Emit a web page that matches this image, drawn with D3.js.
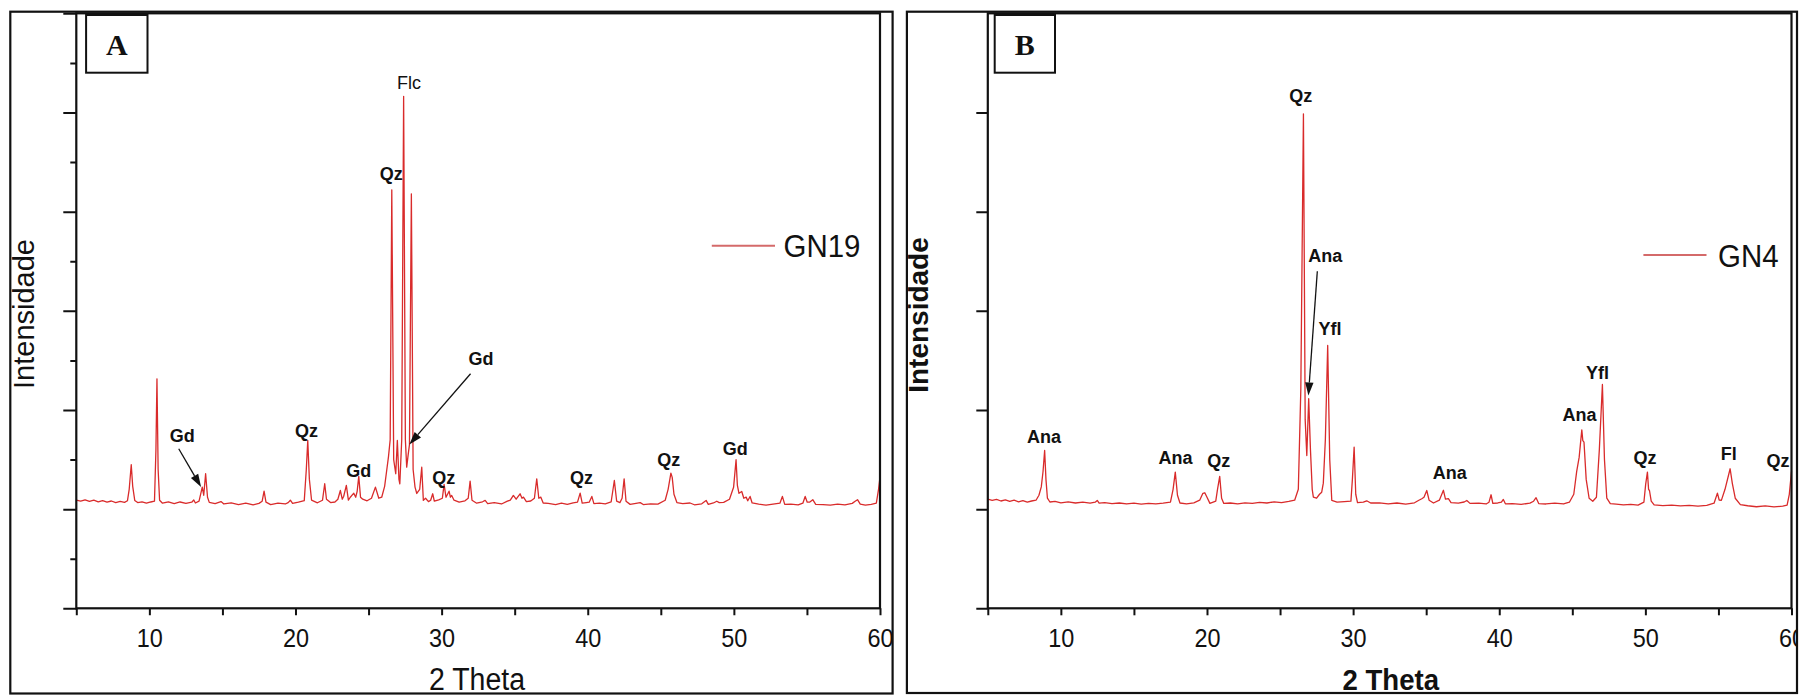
<!DOCTYPE html>
<html>
<head>
<meta charset="utf-8">
<script src="https://cdn.jsdelivr.net/npm/d3@7"></script>
<style>
    html, body { margin: 0; padding: 0; background: #fff; }
    svg { display: block; }
</style>
</head>
<body>
<script>
// Difratogramas DRX - GN19 (A) e GN4 (B)

const xDomain = [5, 60];
const yDomain = [-1000, 5000];
const xTicks = [5, 10, 15, 20, 25, 30, 35, 40, 45, 50, 55, 60];
const xTickLabels = [10, 20, 30, 40, 50, 60];
const yMajorA = [-1000, 0, 1000, 2000, 3000, 4000, 5000];
const yMinorA = [-500, 500, 1500, 2500, 3500, 4500];
const yTicksB = [-1000, 0, 1000, 2000, 3000, 4000];

// [2theta, intensidade]
const gn19 = [
    [5.0, 92], [5.3, 80], [5.6, 94], [5.9, 78], [6.2, 90], [6.5, 74], [6.8, 86], [7.1, 70], [7.4, 82], [7.7, 66], [8.0, 78], [8.3, 68], [8.5, 84],
    [8.62, 200], [8.76, 448], [8.86, 230], [9.0, 88], [9.2, 66], [9.5, 74], [9.8, 60], [10.1, 72], [10.35, 80],
    [10.45, 600], [10.52, 1314], [10.6, 400], [10.7, 90], [10.9, 60], [11.3, 74], [11.7, 56], [12.1, 72], [12.5, 58], [12.9, 70], [13.04, 92], [13.15, 62],
    [13.4, 80], [13.62, 222], [13.72, 140], [13.85, 357], [13.98, 120], [14.1, 68], [14.5, 56], [14.9, 76], [15.1, 52], [15.6, 64], [16.1, 46], [16.6, 60], [17.1, 44], [17.5, 58],
    [17.72, 80], [17.85, 181], [17.98, 70], [18.3, 46], [18.8, 60], [19.3, 52], [19.5, 66], [19.65, 90], [19.8, 58], [20.2, 70], [20.6, 86],
    [20.74, 400], [20.84, 693], [20.95, 300], [21.1, 90], [21.5, 64], [21.85, 90], [22.0, 256], [22.12, 100], [22.4, 66], [22.7, 72],
    [22.9, 100], [23.07, 188], [23.2, 100], [23.3, 130], [23.48, 239], [23.62, 90], [23.75, 120], [23.99, 161], [24.12, 120], [24.22, 180], [24.33, 330], [24.45, 120], [24.6, 100], [24.9, 84], [25.2, 110],
    [25.47, 222], [25.7, 110], [25.9, 120], [26.1, 230], [26.25, 400], [26.36, 524], [26.48, 700], [26.59, 3220], [26.72, 500], [26.86, 357], [26.97, 693], [27.08, 300], [27.14, 256],
    [27.27, 700], [27.4, 4163], [27.52, 700], [27.61, 423], [27.72, 560], [27.8, 650], [27.93, 3180], [28.05, 400], [28.18, 222], [28.3, 158], [28.5, 200], [28.64, 423], [28.75, 88],
    [28.9, 110], [29.1, 76], [29.25, 90], [29.39, 155], [29.5, 80], [29.8, 94], [30.05, 110],
    [30.17, 249], [30.3, 120], [30.51, 181], [30.6, 120], [30.69, 138], [30.85, 90], [31.2, 70], [31.6, 84], [31.82, 110], [31.95, 282], [32.08, 90], [32.4, 60], [32.8, 74], [32.98, 88], [33.15, 56],
    [33.6, 66], [34.1, 52], [34.5, 80], [34.7, 90], [34.91, 138], [35.1, 100], [35.37, 155], [35.5, 110], [35.6, 121], [35.8, 76], [36.1, 82], [36.35, 110],
    [36.51, 306], [36.65, 110], [36.79, 121], [36.95, 62], [37.3, 58], [37.8, 46], [38.2, 60], [38.6, 48], [39.0, 64], [39.3, 70], [39.48, 161], [39.62, 60], [39.9, 66], [40.1, 70], [40.28, 128], [40.42, 56],
    [40.8, 60], [41.2, 54], [41.6, 72], [41.82, 289], [41.98, 80], [42.2, 66], [42.35, 110], [42.49, 306], [42.62, 80], [42.9, 48], [43.3, 58], [43.59, 66], [43.8, 46], [44.3, 54], [44.8, 50],
    [45.3, 90], [45.5, 200], [45.69, 363], [45.78, 320], [45.9, 150], [46.1, 66], [46.5, 56], [47.0, 62], [47.3, 44], [47.8, 54], [48.1, 88], [48.25, 48], [48.6, 62], [48.83, 80], [49.0, 66],
    [49.3, 68], [49.7, 100], [49.98, 220], [50.15, 498], [50.24, 239], [50.35, 160], [50.54, 178], [50.68, 110], [50.84, 121], [50.95, 84], [51.11, 128], [51.25, 62], [51.7, 50], [52.2, 40],
    [52.8, 52], [53.15, 60], [53.32, 128], [53.48, 48], [53.9, 50], [54.4, 42], [54.72, 60], [54.88, 128], [55.02, 70], [55.2, 72], [55.4, 95], [55.6, 48], [56.1, 46], [56.6, 40], [57.1, 50],
    [57.6, 42], [58.1, 58], [58.3, 80], [58.46, 95], [58.65, 50], [59.0, 40], [59.4, 48], [59.75, 60], [59.9, 200], [60.0, 323]
];

const gn4 = [
    [5.0, 100], [5.3, 88], [5.6, 98], [5.9, 82], [6.2, 94], [6.5, 78], [6.8, 90], [7.1, 74], [7.4, 86], [7.7, 70], [8.0, 82], [8.3, 90], [8.5, 140],
    [8.66, 224], [8.78, 380], [8.89, 592], [8.98, 300], [9.08, 110], [9.25, 72], [9.6, 78], [10.0, 64], [10.5, 74], [11.0, 62], [11.5, 70], [12.0, 60], [12.35, 70], [12.49, 88], [12.62, 60],
    [13.0, 66], [13.5, 56], [14.0, 62], [14.5, 52], [15.0, 60], [15.5, 50], [16.0, 58], [16.5, 52], [17.0, 60], [17.5, 70],
    [17.68, 200], [17.83, 373], [17.98, 140], [18.15, 62], [18.6, 54], [19.1, 64], [19.5, 90], [19.72, 160], [19.85, 165], [20.0, 120], [20.2, 58], [20.6, 80],
    [20.72, 200], [20.87, 330], [21.0, 110], [21.15, 58], [21.6, 62], [22.1, 54], [22.6, 64], [23.1, 58], [23.6, 68], [24.1, 62], [24.6, 74], [25.1, 66], [25.6, 78], [26.0, 90],
    [26.25, 200], [26.42, 1200], [26.6, 3986], [26.72, 900], [26.83, 541], [26.96, 1113], [27.08, 600], [27.2, 200], [27.28, 121], [27.5, 110], [27.7, 150], [27.85, 171], [27.96, 262],
    [28.1, 700], [28.26, 1650], [28.4, 500], [28.54, 88], [28.9, 70], [29.4, 76], [29.85, 80], [29.95, 300], [30.07, 625], [30.18, 150], [30.3, 66], [30.7, 70], [30.93, 84], [31.2, 62],
    [31.8, 64], [32.4, 52], [33.0, 62], [33.6, 50], [34.2, 64], [34.5, 90], [34.7, 105], [34.85, 120], [35.04, 188], [35.2, 90], [35.5, 62], [35.9, 90], [36.18, 190], [36.32, 100],
    [36.52, 105], [36.7, 66], [37.2, 60], [37.6, 72], [37.78, 87], [38.0, 58], [38.6, 60], [39.1, 52], [39.3, 70], [39.44, 145], [39.56, 58], [39.9, 62], [40.15, 70], [40.28, 98], [40.42, 54],
    [40.9, 56], [41.5, 48], [42.1, 60], [42.35, 80], [42.52, 115], [42.7, 56], [43.2, 52], [43.8, 60], [44.4, 52], [44.8, 70],
    [45.1, 150], [45.3, 380], [45.47, 524], [45.65, 800], [45.72, 690], [45.8, 675], [45.95, 300], [46.15, 110], [46.4, 80], [46.65, 120], [46.85, 600], [47.06, 1257], [47.2, 500], [47.36, 110],
    [47.6, 56], [48.0, 50], [48.5, 42], [49.0, 48], [49.5, 40], [49.9, 70], [50.02, 250], [50.14, 373], [50.22, 200], [50.28, 188], [50.4, 80], [50.6, 42], [51.2, 36], [51.8, 40],
    [52.4, 32], [53.0, 38], [53.6, 30], [54.2, 38], [54.7, 60], [54.93, 161], [55.05, 92], [55.2, 88], [55.45, 200], [55.8, 407], [55.95, 260], [56.15, 110], [56.5, 46],
    [57.0, 34], [57.6, 24], [58.2, 32], [58.8, 22], [59.4, 30], [59.7, 40], [59.85, 150], [60.0, 380]
];

// [texto, 2theta, intensidade]
const picosA = [
    ['Flc', 27.77, 4239], ['Qz', 26.56, 3319], ['Gd', 32.7, 1451], ['Gd', 12.25, 677], ['Qz', 20.76, 728],
    ['Gd', 24.33, 325], ['Qz', 30.15, 254], ['Qz', 39.58, 254], ['Qz', 45.55, 435], ['Gd', 50.09, 546]
];
const picosB = [
    ['Qz', 26.42, 4105], ['Ana', 28.1, 2492], ['Yfl', 28.42, 1753], ['Ana', 8.85, 667], ['Ana', 17.85, 456],
    ['Qz', 20.81, 428], ['Ana', 36.61, 304], ['Ana', 45.5, 884], ['Yfl', 46.73, 1312], ['Qz', 49.98, 451],
    ['Fl', 55.71, 496], ['Qz', 59.08, 425]
];
// [2theta inicio, int inicio, 2theta fim, int fim]
const setasA = [[12.01, 609, 13.54, 222], [31.98, 1365, 27.79, 652]];
const setasB = [[27.55, 2399, 26.94, 1146]];

const FONT = '"Liberation Sans", Arial, sans-serif';
const SERIF = '"Liberation Serif", "Times New Roman", serif';
const traceColor = '#d92b2b';
const legendColor = '#d46a6a';

const svg = d3.select('body').append('svg').attr('width', 1800).attr('height', 696);
svg.append('rect').attr('width', 1800).attr('height', 696).attr('fill', '#fff');
const defs = svg.append('defs');

renderPanel({
    id: 'A', letter: 'A', serie: 'GN19', data: gn19, picos: picosA, setas: setasA,
    regular: ['Flc'], bold: false,
    frame: [10.3, 11.7, 892.6, 693.5], plot: [76.3, 13.3, 880, 608.3],
    box: [86.1, 15, 147.5, 72.7],
    legend: { x1: 711.8, x2: 775, y: 245.7, tx: 783.6 },
    yLabel: { x: 34, y: 314, size: 29 }, xLabel: { x: 477, y: 690, size: 31 },
    yMajor: yMajorA, yMinor: yMinorA, majorLen: 13
});
renderPanel({
    id: 'B', letter: 'B', serie: 'GN4', data: gn4, picos: picosB, setas: setasB,
    regular: [], bold: true,
    frame: [906.9, 11.7, 1797, 693], plot: [987.8, 13.3, 1791.5, 608.3],
    box: [994.7, 15, 1055, 72.7],
    legend: { x1: 1643.4, x2: 1706.5, y: 255, tx: 1718 },
    yLabel: { x: 928, y: 315, size: 28 }, xLabel: { x: 1390.8, y: 690, size: 30 },
    yMajor: yTicksB, yMinor: null, majorLen: 11.5
});

function renderPanel(cfg) {
    const [fx0, fy0, fx1, fy1] = cfg.frame;
    const [left, top, right, bottom] = cfg.plot;
    const clipId = 'clip-' + cfg.id;
    defs.append('clipPath').attr('id', clipId).append('rect')
        .attr('x', fx0).attr('y', fy0).attr('width', fx1 - fx0).attr('height', fy1 - fy0);
    const g = svg.append('g').attr('clip-path', `url(#${clipId})`);

    const x = d3.scaleLinear().domain(xDomain).range([left, right]);
    const y = d3.scaleLinear().domain(yDomain).range([bottom, top]);

    // difratograma
    g.append('path')
        .datum(cfg.data)
        .attr('d', d3.line().x(d => x(d[0])).y(d => y(d[1])))
        .attr('fill', 'none')
        .attr('stroke', traceColor)
        .attr('stroke-width', 1.3)
        .attr('stroke-linejoin', 'round');

    // caixa dos eixos
    g.append('rect')
        .attr('x', left).attr('y', top).attr('width', right - left).attr('height', bottom - top)
        .attr('fill', 'none').attr('stroke', '#111').attr('stroke-width', 2.2);

    // eixo x
    const gx = g.append('g')
        .attr('transform', `translate(0,${bottom})`)
        .call(d3.axisBottom(x).tickValues(xTicks).tickSize(7).tickPadding(14)
            .tickFormat(d => xTickLabels.includes(d) ? d : ''));
    gx.select('.domain').remove();
    gx.selectAll('line').attr('stroke', '#111').attr('stroke-width', 2);
    gx.selectAll('text')
        .attr('font-size', 25.5).attr('font-family', FONT).attr('fill', '#111')
        .attr('transform', 'scale(0.92,1)');

    // eixo y (sem rótulos)
    const gy = g.append('g')
        .attr('transform', `translate(${left},0)`)
        .call(d3.axisLeft(y).tickValues(cfg.yMajor).tickSize(cfg.majorLen).tickFormat(''));
    gy.select('.domain').remove();
    gy.selectAll('line').attr('stroke', '#111').attr('stroke-width', 2);
    if (cfg.yMinor) {
        const gm = g.append('g')
            .attr('transform', `translate(${left},0)`)
            .call(d3.axisLeft(y).tickValues(cfg.yMinor).tickSize(6).tickFormat(''));
        gm.select('.domain').remove();
        gm.selectAll('line').attr('stroke', '#111').attr('stroke-width', 2);
    }

    // rótulos dos picos
    g.selectAll('text.pico')
        .data(cfg.picos)
        .enter()
        .append('text')
        .attr('class', 'pico')
        .attr('x', d => x(d[1]))
        .attr('y', d => y(d[2]))
        .attr('text-anchor', 'middle')
        .attr('font-family', FONT)
        .attr('font-size', 18)
        .attr('font-weight', d => cfg.regular.includes(d[0]) ? 'normal' : 'bold')
        .attr('fill', '#111')
        .text(d => d[0]);

    // setas
    cfg.setas.forEach(s => {
        const x1 = x(s[0]), y1 = y(s[1]), x2 = x(s[2]), y2 = y(s[3]);
        const ang = Math.atan2(y2 - y1, x2 - x1);
        const len = 13, hw = 4.2;
        const bx = x2 - len * Math.cos(ang), by = y2 - len * Math.sin(ang);
        g.append('line')
            .attr('x1', x1).attr('y1', y1).attr('x2', bx).attr('y2', by)
            .attr('stroke', '#111').attr('stroke-width', 1.3);
        g.append('path')
            .attr('d', `M${x2},${y2} L${bx + hw * Math.sin(ang)},${by - hw * Math.cos(ang)} L${bx - hw * Math.sin(ang)},${by + hw * Math.cos(ang)} Z`)
            .attr('fill', '#111');
    });

    // legenda
    g.append('line')
        .attr('x1', cfg.legend.x1).attr('x2', cfg.legend.x2)
        .attr('y1', cfg.legend.y).attr('y2', cfg.legend.y)
        .attr('stroke', legendColor).attr('stroke-width', 2);
    g.append('text')
        .attr('transform', `translate(${cfg.legend.tx},${cfg.legend.y + 11.5}) scale(0.92,1)`)
        .attr('font-family', FONT).attr('font-size', 32).attr('fill', '#111')
        .text(cfg.serie);

    // títulos dos eixos
    g.append('text')
        .attr('transform', `translate(${cfg.yLabel.x},${cfg.yLabel.y}) rotate(-90)`)
        .attr('text-anchor', 'middle')
        .attr('font-family', FONT).attr('font-size', cfg.yLabel.size)
        .attr('font-weight', cfg.bold ? 'bold' : 'normal')
        .attr('fill', '#111')
        .text('Intensidade');
    g.append('text')
        .attr('transform', `translate(${cfg.xLabel.x},${cfg.xLabel.y}) scale(0.92,1)`)
        .attr('text-anchor', 'middle')
        .attr('font-family', FONT).attr('font-size', cfg.xLabel.size)
        .attr('font-weight', cfg.bold ? 'bold' : 'normal')
        .attr('fill', '#111')
        .text('2 Theta');

    // caixa da letra do painel
    const [bx0, by0, bx1, by1] = cfg.box;
    g.append('rect')
        .attr('x', bx0).attr('y', by0).attr('width', bx1 - bx0).attr('height', by1 - by0)
        .attr('fill', '#fff').attr('stroke', '#111').attr('stroke-width', 2);
    g.append('text')
        .attr('x', (bx0 + bx1) / 2).attr('y', 55)
        .attr('text-anchor', 'middle')
        .attr('font-family', SERIF).attr('font-size', 30).attr('font-weight', 'bold')
        .attr('fill', '#111')
        .text(cfg.letter);

    // moldura externa
    svg.append('rect')
        .attr('x', fx0).attr('y', fy0).attr('width', fx1 - fx0).attr('height', fy1 - fy0)
        .attr('fill', 'none').attr('stroke', '#111').attr('stroke-width', 2.2);
}
</script>
</body>
</html>
